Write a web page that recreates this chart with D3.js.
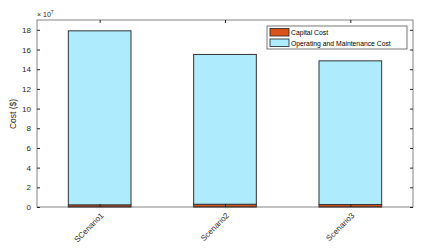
<!DOCTYPE html>
<html><head><meta charset="utf-8">
<script src="https://cdn.jsdelivr.net/npm/d3@7"></script>
<style>body{margin:0;background:#fff}svg{display:block}text{font-family:"Liberation Sans",Arial,sans-serif}</style>
</head><body><svg id="c" width="428" height="249"></svg>
<script>
const categories = ["SCenario1", "Scenario2", "Scenario3"];
const capitalCost = [0.22, 0.28, 0.25];
const omCost = [17.68, 15.22, 14.6];
const yTicks = [0, 2, 4, 6, 8, 10, 12, 14, 16, 18];
const seriesNames = ["Capital Cost", "Operating and Maintenance Cost"];
const colors = ["#D95319", "#AEEBFC"];

const svg = d3.select("#c");
const m = {l: 37, t: 20, r: 413, b: 207};
const x = d3.scaleLinear().domain([0.5, 3.5]).range([m.l, m.r]);
const y = d3.scaleLinear().domain([0, 19]).range([m.b, m.t]);
const axisColor = "#262626";

const data = categories.map((c, i) => ({c, i, cap: capitalCost[i], om: omCost[i]}));
const stack = d3.stack().keys(["cap", "om"])(data);
const bw = (x(2) - x(1)) * 0.5;

stack.forEach((s, k) => {
  svg.append("g").selectAll("rect").data(s).join("rect")
    .attr("x", d => x(d.data.i + 1) - bw / 2)
    .attr("width", bw)
    .attr("y", d => y(d[1]))
    .attr("height", d => y(d[0]) - y(d[1]))
    .attr("fill", colors[k])
    .attr("stroke", "#333")
    .attr("stroke-width", 1);
});

// axes box
svg.append("rect").attr("x", m.l).attr("y", m.t).attr("width", m.r - m.l).attr("height", m.b - m.t)
  .attr("fill", "none").attr("stroke", axisColor).attr("stroke-width", 0.8).attr("stroke-opacity", 0.7);

const yAxis = d3.axisLeft(y).tickValues(yTicks).tickSizeInner(-3).tickSizeOuter(0).tickPadding(6);
const gy = svg.append("g").attr("transform", `translate(${m.l},0)`).call(yAxis);
gy.select(".domain").remove();
gy.selectAll("text").attr("font-size", 8).attr("fill", "#262626");
gy.selectAll("line").attr("stroke", axisColor);

const gyr = svg.append("g").attr("transform", `translate(${m.r},0)`)
  .call(d3.axisRight(y).tickValues(yTicks).tickSizeInner(-3).tickSizeOuter(0).tickFormat(""));
gyr.select(".domain").remove();
gyr.selectAll("line").attr("stroke", axisColor);

const xAxis = d3.axisBottom(x).tickValues([1, 2, 3]).tickSizeInner(-3).tickSizeOuter(0)
  .tickFormat(d => categories[d - 1]);
const gx = svg.append("g").attr("transform", `translate(0,${m.b})`).call(xAxis);
gx.select(".domain").remove();
gx.selectAll("line").attr("stroke", axisColor);
gx.selectAll("text").attr("font-size", 8).attr("fill", "#262626")
  .attr("text-anchor", "end").attr("dy", 0).attr("y", 0)
  .attr("transform", "translate(4,9) rotate(-45)");

const gxt = svg.append("g").attr("transform", `translate(0,${m.t})`)
  .call(d3.axisTop(x).tickValues([1, 2, 3]).tickSizeInner(-3).tickSizeOuter(0).tickFormat(""));
gxt.select(".domain").remove();
gxt.selectAll("line").attr("stroke", axisColor);

// exponent
const ex = svg.append("text").attr("x", 37).attr("y", 17).attr("font-size", 7).attr("fill", "#262626");
ex.append("tspan").text("\u00d7 10");
ex.append("tspan").attr("dy", -3).attr("font-size", 5).text("7");

// y label
svg.append("text").attr("transform", "translate(16,114) rotate(-90)").attr("text-anchor", "middle")
  .attr("font-size", 8.5).attr("fill", "#262626").text("Cost ($)");

// legend
const lg = svg.append("g").attr("transform", "translate(267,26)");
lg.append("rect").attr("width", 140).attr("height", 23).attr("fill", "#fff").attr("stroke", "#555").attr("stroke-width", 0.8);
seriesNames.forEach((n, k) => {
  lg.append("rect").attr("x", 3).attr("y", 2.5 + k * 10.5).attr("width", 19).attr("height", 7.5)
    .attr("fill", colors[k]).attr("stroke", "#222").attr("stroke-width", 0.8);
  lg.append("text").attr("x", 24).attr("y", 9 + k * 10.5).attr("font-size", 6.8).attr("fill", "#000").text(n);
});
</script></body></html>
